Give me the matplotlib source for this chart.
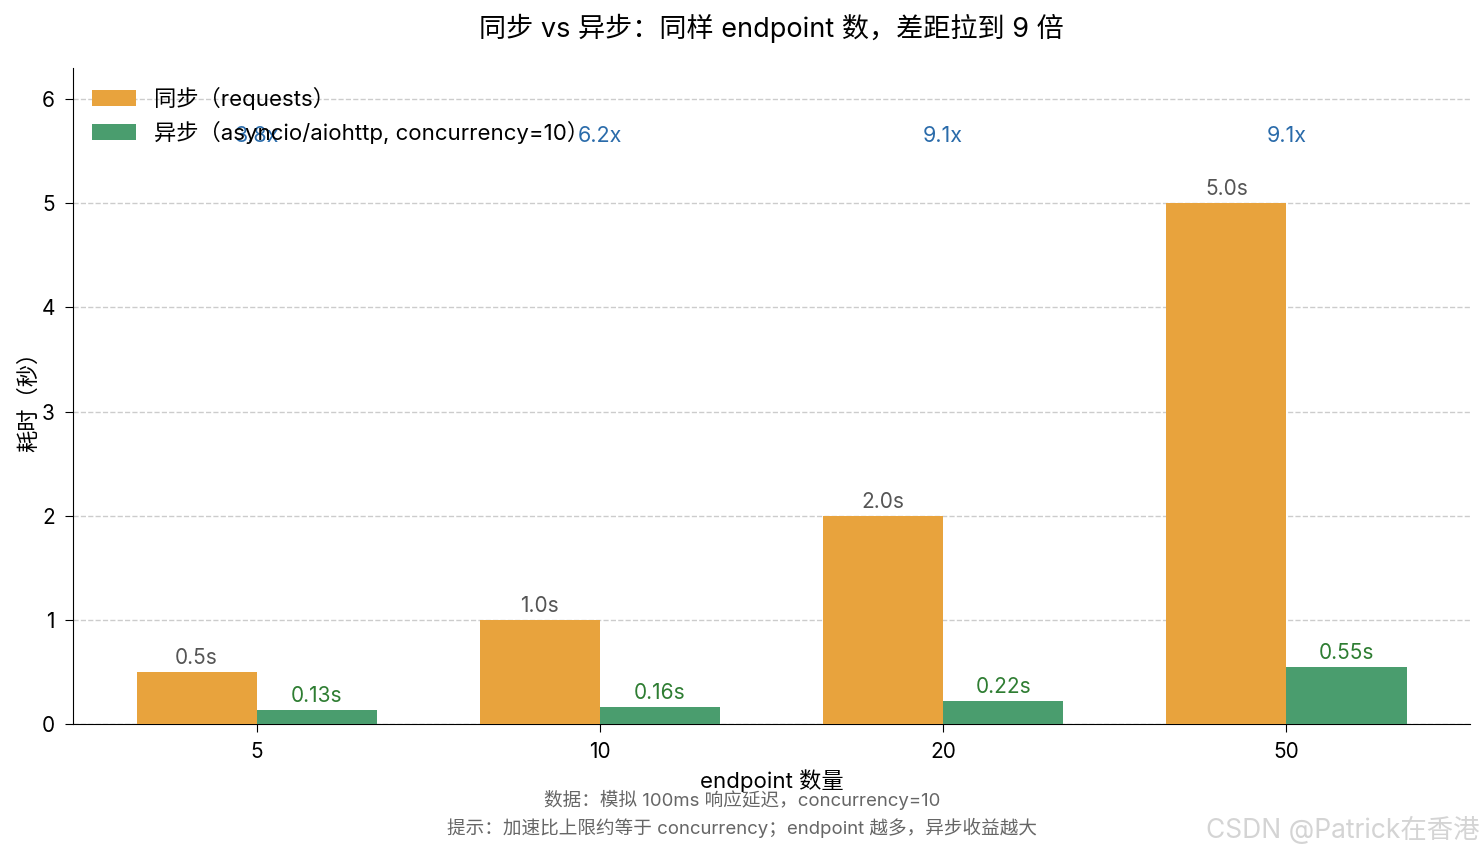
import numpy as np
import matplotlib
matplotlib.use("Agg")
import matplotlib.pyplot as plt

plt.rcParams['font.family'] = ['Inter', 'Noto Sans CJK SC', 'DejaVu Sans']
plt.rcParams['axes.unicode_minus'] = False

# data
endpoints = ['5', '10', '20', '50']
sync_times = [0.5, 1.0, 2.0, 5.0]
async_times = [0.13, 0.16, 0.22, 0.55]
speedups = ['3.8x', '6.2x', '9.1x', '9.1x']

c_sync = '#E8A33D'
c_async = '#4A9D6E'

fig = plt.figure(figsize=(14.84, 8.56), dpi=100)
ax = fig.add_axes([0.0492, 0.1542, 0.9414, 0.7664])

x = np.arange(len(endpoints))
w = 0.35
b1 = ax.bar(x - w/2, sync_times, w, color=c_sync, label='同步（requests）', zorder=3)
b2 = ax.bar(x + w/2, async_times, w, color=c_async,
            label='异步（asyncio/aiohttp, concurrency=10）', zorder=3)

for rect, v in zip(b1, sync_times):
    ax.annotate(f'{v:.1f}s', (rect.get_x() + rect.get_width()/2, v),
                xytext=(0, 3), textcoords='offset points',
                ha='center', va='bottom', fontsize=15, color='#555555')
for rect, v in zip(b2, async_times):
    ax.annotate(f'{v:.2f}s', (rect.get_x() + rect.get_width()/2, v),
                xytext=(0, 3), textcoords='offset points',
                ha='center', va='bottom', fontsize=15, color='#2E7D32')

top = max(sync_times) * 1.13
for xi, s in zip(x, speedups):
    ax.text(xi, top, s, ha='center', va='center', fontsize=15.5, color='#2A6BAA')

ax.set_xticks(x)
ax.set_xticklabels(endpoints)
ax.set_ylim(0, 6.3)
ax.tick_params(labelsize=15, length=6, pad=7)
ax.set_xlabel('endpoint 数量', fontsize=16, labelpad=5)
ax.set_ylabel('耗时（秒）', fontsize=16, labelpad=2)
ax.set_title('同步 vs 异步：同样 endpoint 数，差距拉到 9 倍', fontsize=19.5, pad=22)
ax.yaxis.grid(True, linestyle='--', color='#cccccc', linewidth=1, zorder=0)
ax.spines['top'].set_visible(False)
ax.spines['right'].set_visible(False)
ax.legend(loc='upper left', frameon=False, fontsize=16, handlelength=2.0,
          labelspacing=0.5, borderaxespad=0.45)

fig.text(0.5, 0.065, '数据：模拟 100ms 响应延迟，concurrency=10',
         ha='center', va='center', fontsize=13.4, color='#666666')
fig.text(0.5, 0.033, '提示：加速比上限约等于 concurrency；endpoint 越多，异步收益越大',
         ha='center', va='center', fontsize=13.4, color='#666666')
fig.text(0.997, 0.03, 'CSDN @Patrick在香港', ha='right', va='center',
         fontsize=19, color='#d4d4d4')

fig.savefig('out.png', dpi=100)
